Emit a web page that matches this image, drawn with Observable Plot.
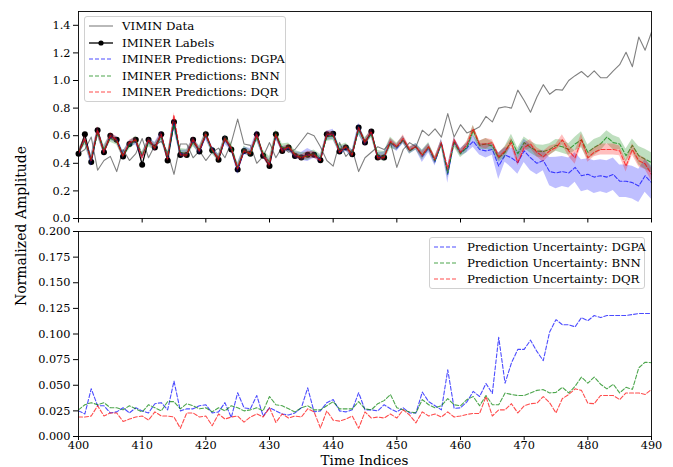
<!DOCTYPE html>
<html>
<head>
<meta charset="utf-8">
<script src="https://cdn.jsdelivr.net/npm/d3@7"></script>
<script src="https://cdn.jsdelivr.net/npm/@observablehq/plot@0.6"></script>
<style>
  html, body { margin: 0; padding: 0; background: white; }
  #wrap { position: relative; width: 673px; height: 467px; font-family: "DejaVu Serif", serif; color: black; overflow: hidden; }
  #wrap > .panel { position: absolute; left: 0; }
  .legend { position: absolute; border: 1px solid #d0d0d0; border-radius: 3px; background: rgba(255,255,255,0.85); box-sizing: border-box; }
  .row { position: absolute; left: 0; height: 16px; display: flex; align-items: center; font-size: 11.8px; white-space: nowrap; }
  .row svg { margin-right: 8px; }
  .lab { position: absolute; font-size: 14px; line-height: 13px; white-space: nowrap; }
</style>
</head>
<body>
<div id="wrap"></div>
<script>
// ---------- data ----------
const timeIndices = d3.range(400, 491);

const viminData = [
  0.47, 0.50, 0.59, 0.35, 0.42, 0.45, 0.34, 0.50, 0.42, 0.47,
  0.58, 0.44, 0.53, 0.56, 0.48, 0.32, 0.54, 0.54, 0.44, 0.49,
  0.42, 0.48, 0.51, 0.44, 0.55, 0.72, 0.54, 0.53, 0.40, 0.45,
  0.55, 0.44, 0.52, 0.48, 0.50, 0.56, 0.62, 0.60, 0.52, 0.42,
  0.38, 0.55, 0.45, 0.50, 0.34, 0.44, 0.48, 0.52, 0.50, 0.55,
  0.37, 0.50, 0.55, 0.52, 0.64, 0.60, 0.65, 0.59, 0.76, 0.59,
  0.68, 0.62, 0.64, 0.665, 0.74, 0.70, 0.80, 0.81, 0.80, 0.93,
  0.855, 0.77, 0.88, 0.97, 0.90, 0.935, 0.93, 1.00, 1.035, 1.065,
  1.025, 1.07, 1.02, 1.02, 1.07, 1.115, 1.205, 1.10, 1.315, 1.22,
  1.35
];

// IMINER labels exist for indices 400..448
const labelValues = [
  0.47, 0.61, 0.41, 0.64, 0.48, 0.60, 0.57, 0.45, 0.54, 0.57,
  0.39, 0.57, 0.515, 0.61, 0.42, 0.70, 0.46, 0.46, 0.57, 0.485,
  0.61, 0.495, 0.425, 0.58, 0.50, 0.355, 0.49, 0.47, 0.61, 0.455,
  0.38, 0.61, 0.49, 0.515, 0.452, 0.442, 0.462, 0.462, 0.423, 0.61,
  0.615, 0.486, 0.515, 0.465, 0.66, 0.55, 0.63, 0.442, 0.442
];

const predDGPA = [
  0.47, 0.57, 0.42, 0.63, 0.49, 0.59, 0.57, 0.46, 0.54, 0.56,
  0.45, 0.56, 0.52, 0.60, 0.44, 0.69, 0.47, 0.47, 0.56, 0.49,
  0.60, 0.50, 0.44, 0.57, 0.51, 0.36, 0.49, 0.48, 0.60, 0.46,
  0.40, 0.60, 0.50, 0.51, 0.46, 0.45, 0.46, 0.46, 0.43, 0.60,
  0.61, 0.49, 0.51, 0.47, 0.65, 0.55, 0.62, 0.45, 0.45, 0.55,
  0.51, 0.57, 0.49, 0.52, 0.45, 0.51, 0.41, 0.55, 0.32, 0.56,
  0.48, 0.51, 0.56, 0.50, 0.49, 0.50, 0.38, 0.46, 0.44, 0.405,
  0.49, 0.44, 0.40, 0.42, 0.34, 0.33, 0.34, 0.33, 0.37, 0.31,
  0.32, 0.30, 0.31, 0.30, 0.32, 0.27, 0.27, 0.26, 0.236, 0.31,
  0.26
];
const predBNN = [
  0.48, 0.56, 0.43, 0.62, 0.50, 0.58, 0.56, 0.46, 0.53, 0.57,
  0.46, 0.55, 0.52, 0.59, 0.45, 0.68, 0.48, 0.47, 0.55, 0.50,
  0.61, 0.49, 0.44, 0.58, 0.52, 0.37, 0.50, 0.47, 0.59, 0.47,
  0.41, 0.61, 0.51, 0.52, 0.47, 0.45, 0.45, 0.47, 0.44, 0.59,
  0.60, 0.50, 0.52, 0.47, 0.64, 0.56, 0.61, 0.46, 0.45, 0.55,
  0.52, 0.57, 0.49, 0.52, 0.46, 0.52, 0.42, 0.54, 0.33, 0.55,
  0.47, 0.515, 0.636, 0.53, 0.54, 0.525, 0.44, 0.48, 0.57, 0.47,
  0.55, 0.515, 0.49, 0.485, 0.50, 0.53, 0.52, 0.50, 0.54, 0.57,
  0.48, 0.515, 0.54, 0.59, 0.55, 0.54, 0.455, 0.53, 0.455, 0.43,
  0.405
];
const predDQR = [
  0.47, 0.58, 0.42, 0.64, 0.48, 0.60, 0.57, 0.45, 0.55, 0.57,
  0.44, 0.57, 0.51, 0.61, 0.43, 0.75, 0.46, 0.46, 0.57, 0.49,
  0.61, 0.50, 0.43, 0.58, 0.51, 0.36, 0.49, 0.47, 0.61, 0.46,
  0.39, 0.61, 0.49, 0.52, 0.46, 0.44, 0.46, 0.46, 0.42, 0.61,
  0.61, 0.48, 0.52, 0.46, 0.66, 0.55, 0.63, 0.44, 0.44, 0.56,
  0.52, 0.58, 0.50, 0.52, 0.46, 0.52, 0.43, 0.55, 0.36, 0.57,
  0.48, 0.535, 0.65, 0.54, 0.54, 0.55, 0.447, 0.49, 0.55, 0.405,
  0.515, 0.54, 0.48, 0.447, 0.49, 0.515, 0.57, 0.49, 0.44, 0.57,
  0.44, 0.48, 0.50, 0.50, 0.50, 0.49, 0.38, 0.50, 0.418, 0.396,
  0.32
];

const uncDGPA = [
  0.025, 0.022, 0.0466, 0.030, 0.030, 0.023, 0.024, 0.028, 0.023, 0.028,
  0.025, 0.023, 0.032, 0.033, 0.026, 0.054, 0.025, 0.027, 0.027, 0.030,
  0.031, 0.023, 0.024, 0.033, 0.0185, 0.0427, 0.028, 0.027, 0.040, 0.020,
  0.028, 0.025, 0.022, 0.021, 0.023, 0.028, 0.0475, 0.024, 0.025, 0.033,
  0.036, 0.025, 0.024, 0.026, 0.0427, 0.026, 0.026, 0.025, 0.031, 0.027,
  0.024, 0.028, 0.023, 0.023, 0.0433, 0.034, 0.030, 0.026, 0.065, 0.0275,
  0.028, 0.0337, 0.044, 0.039, 0.0517, 0.042, 0.0968, 0.052, 0.0717, 0.085,
  0.085, 0.094, 0.083, 0.074, 0.102, 0.114, 0.109, 0.109, 0.107, 0.116,
  0.113, 0.118, 0.116, 0.118, 0.118, 0.118, 0.118, 0.119, 0.120, 0.120,
  0.120
];
const uncBNN = [
  0.026, 0.031, 0.033, 0.031, 0.033, 0.028, 0.028, 0.026, 0.030, 0.027,
  0.024, 0.031, 0.028, 0.025, 0.034, 0.034, 0.027, 0.032, 0.030, 0.027,
  0.028, 0.024, 0.028, 0.025, 0.030, 0.028, 0.025, 0.026, 0.028, 0.025,
  0.039, 0.031, 0.030, 0.027, 0.024, 0.028, 0.030, 0.026, 0.026, 0.030,
  0.034, 0.027, 0.027, 0.027, 0.034, 0.027, 0.026, 0.032, 0.035, 0.041,
  0.028, 0.026, 0.024, 0.023, 0.036, 0.031, 0.028, 0.030, 0.037, 0.031,
  0.030, 0.036, 0.039, 0.030, 0.040, 0.031, 0.031, 0.0425, 0.041, 0.040,
  0.040, 0.0425, 0.045, 0.0457, 0.0425, 0.043, 0.048, 0.0425, 0.049, 0.058,
  0.052, 0.058, 0.051, 0.0465, 0.051, 0.0425, 0.048, 0.046, 0.067, 0.0725,
  0.072
];
const uncDQR = [
  0.019, 0.019, 0.020, 0.030, 0.020, 0.023, 0.023, 0.0147, 0.017, 0.019,
  0.020, 0.016, 0.024, 0.020, 0.020, 0.019, 0.008, 0.023, 0.023, 0.019,
  0.020, 0.0105, 0.022, 0.017, 0.019, 0.020, 0.014, 0.019, 0.022, 0.019,
  0.028, 0.0137, 0.022, 0.018, 0.020, 0.019, 0.027, 0.024, 0.0083, 0.025,
  0.016, 0.015, 0.017, 0.020, 0.008, 0.024, 0.018, 0.019, 0.018, 0.022,
  0.018, 0.026, 0.021, 0.0133, 0.024, 0.020, 0.022, 0.019, 0.024, 0.019,
  0.020, 0.0215, 0.0225, 0.0225, 0.039, 0.020, 0.026, 0.026, 0.032, 0.023,
  0.030, 0.032, 0.0325, 0.039, 0.033, 0.023, 0.037, 0.041, 0.0465, 0.045,
  0.0325, 0.032, 0.040, 0.040, 0.040, 0.036, 0.0425, 0.0425, 0.0425, 0.041,
  0.046
];

const topYTicks = [0, 0.2, 0.4, 0.6, 0.8, 1.0, 1.2, 1.4];
const bottomYTicks = [0, 0.025, 0.05, 0.075, 0.1, 0.125, 0.15, 0.175, 0.2];
const xTicks = [400, 410, 420, 430, 440, 450, 460, 470, 480, 490];

const models = [
  {name: "DGPA", color: "#0000ff", pred: predDGPA, unc: uncDGPA},
  {name: "BNN",  color: "#008000", pred: predBNN,  unc: uncBNN},
  {name: "DQR",  color: "#ff0000", pred: predDQR,  unc: uncDQR}
];

// ---------- tables ----------
const viminRows = timeIndices.map((t, i) => ({t, v: viminData[i]}));
const labelRows = labelValues.map((v, i) => ({t: timeIndices[i], v}));
const modelRows = models.map(m => timeIndices.map((t, i) => ({
  t, v: m.pred[i], lo: m.pred[i] - m.unc[i], hi: m.pred[i] + m.unc[i], u: m.unc[i]
})));

const W = 673, ML = 78, MR = 22;
const font = {fontFamily: "DejaVu Serif", fontSize: "11.3px", color: "black", background: "transparent", overflow: "visible"};
const dash = "4,2";

// ---------- top panel ----------
const topMarks = [
  Plot.line(viminRows, {x: "t", y: "v", stroke: "#808080", strokeWidth: 1.1}),
  Plot.line(labelRows, {x: "t", y: "v", stroke: "black", strokeWidth: 1.3}),
  Plot.dot(labelRows, {x: "t", y: "v", fill: "black", r: 3})
];
models.forEach((m, k) => {
  topMarks.push(Plot.areaY(modelRows[k], {x: "t", y1: "lo", y2: "hi", fill: m.color, fillOpacity: 0.25}));
  topMarks.push(Plot.line(modelRows[k], {x: "t", y: "v", stroke: m.color, strokeOpacity: 0.7, strokeWidth: 1.1, strokeDasharray: dash}));
});
topMarks.push(
  Plot.axisY({ticks: topYTicks, tickFormat: d3.format(".1f"), tickSize: 5, tickPadding: 3, label: null}),
  Plot.axisX({ticks: xTicks, tickFormat: () => "", tickSize: 4.5, label: null}),
  Plot.frame({stroke: "black", strokeWidth: 0.9})
);
const topChart = Plot.plot({
  width: W, height: 222, marginLeft: ML, marginRight: MR, marginTop: 11, marginBottom: 4,
  style: font,
  x: {domain: [400, 490]},
  y: {domain: [0, 1.5]},
  marks: topMarks
});

// ---------- bottom panel ----------
const botMarks = models.map((m, k) =>
  Plot.line(modelRows[k], {x: "t", y: "u", stroke: m.color, strokeOpacity: 0.7, strokeWidth: 1.1, strokeDasharray: dash})
);
botMarks.push(
  Plot.axisY({ticks: bottomYTicks, tickFormat: d3.format(".3f"), tickSize: 5, tickPadding: 3, label: null}),
  Plot.axisX({ticks: xTicks, tickFormat: d3.format("d"), tickSize: 4, tickPadding: 0, label: null}),
  Plot.frame({stroke: "black", strokeWidth: 0.9})
);
const bottomChart = Plot.plot({
  width: W, height: 245, marginLeft: ML, marginRight: MR, marginTop: 9, marginBottom: 31,
  style: font,
  x: {domain: [400, 490]},
  y: {domain: [0, 0.2]},
  marks: botMarks
});

const wrap = document.getElementById("wrap");
topChart.classList.add("panel"); topChart.style.top = "0px";
bottomChart.classList.add("panel"); bottomChart.style.top = "222px";
wrap.appendChild(topChart);
wrap.appendChild(bottomChart);

// ---------- legends & labels ----------
function swatch(kind, color) {
  const ns = "http://www.w3.org/2000/svg";
  const s = document.createElementNS(ns, "svg");
  s.setAttribute("width", 26); s.setAttribute("height", 10);
  const l = document.createElementNS(ns, "line");
  l.setAttribute("x1", 1); l.setAttribute("x2", 25); l.setAttribute("y1", 5); l.setAttribute("y2", 5);
  l.setAttribute("stroke", color);
  if (kind === "solid") { l.setAttribute("stroke-width", 1.1); }
  if (kind === "marker") {
    l.setAttribute("stroke-width", 1.3);
    const c = document.createElementNS(ns, "circle");
    c.setAttribute("cx", 13); c.setAttribute("cy", 5); c.setAttribute("r", 2.6); c.setAttribute("fill", color);
    s.appendChild(l); s.appendChild(c); return s;
  }
  if (kind === "dash") { l.setAttribute("stroke-dasharray", dash); l.setAttribute("stroke-opacity", 0.7); l.setAttribute("stroke-width", 1.1); }
  s.appendChild(l);
  return s;
}
function legend(left, topY, width, height, items, rowStep, firstCenter) {
  const box = document.createElement("div");
  box.className = "legend";
  Object.assign(box.style, {left: left + "px", top: topY + "px", width: width + "px", height: height + "px"});
  items.forEach((it, i) => {
    const r = document.createElement("div");
    r.className = "row";
    r.style.top = (firstCenter + i * rowStep - 8) + "px";
    r.style.left = "3px";
    r.appendChild(swatch(it.kind, it.color));
    const sp = document.createElement("span");
    sp.textContent = it.text;
    r.appendChild(sp);
    box.appendChild(r);
  });
  wrap.appendChild(box);
}
legend(84, 16, 202, 86, [
  {kind: "solid", color: "#808080", text: "VIMIN Data"},
  {kind: "marker", color: "black", text: "IMINER Labels"},
  ...models.map(m => ({kind: "dash", color: m.color, text: "IMINER Predictions: " + m.name}))
], 16.5, 9);
legend(429, 237, 216, 52, models.map(m => ({kind: "dash", color: m.color, text: "Prediction Uncertainty: " + m.name})), 16.3, 8.5);

const yl = document.createElement("div");
yl.className = "lab";
yl.textContent = "Normalized Amplitude";
Object.assign(yl.style, {left: "21px", top: "226px", transform: "translate(-50%,-50%) rotate(-90deg)"});
wrap.appendChild(yl);

const xl = document.createElement("div");
xl.className = "lab";
xl.textContent = "Time Indices";
Object.assign(xl.style, {left: ((ML + W - MR) / 2) + "px", top: "459.8px", fontSize: "13.5px", transform: "translate(-50%,-50%)"});
wrap.appendChild(xl);
</script>
</body>
</html>
